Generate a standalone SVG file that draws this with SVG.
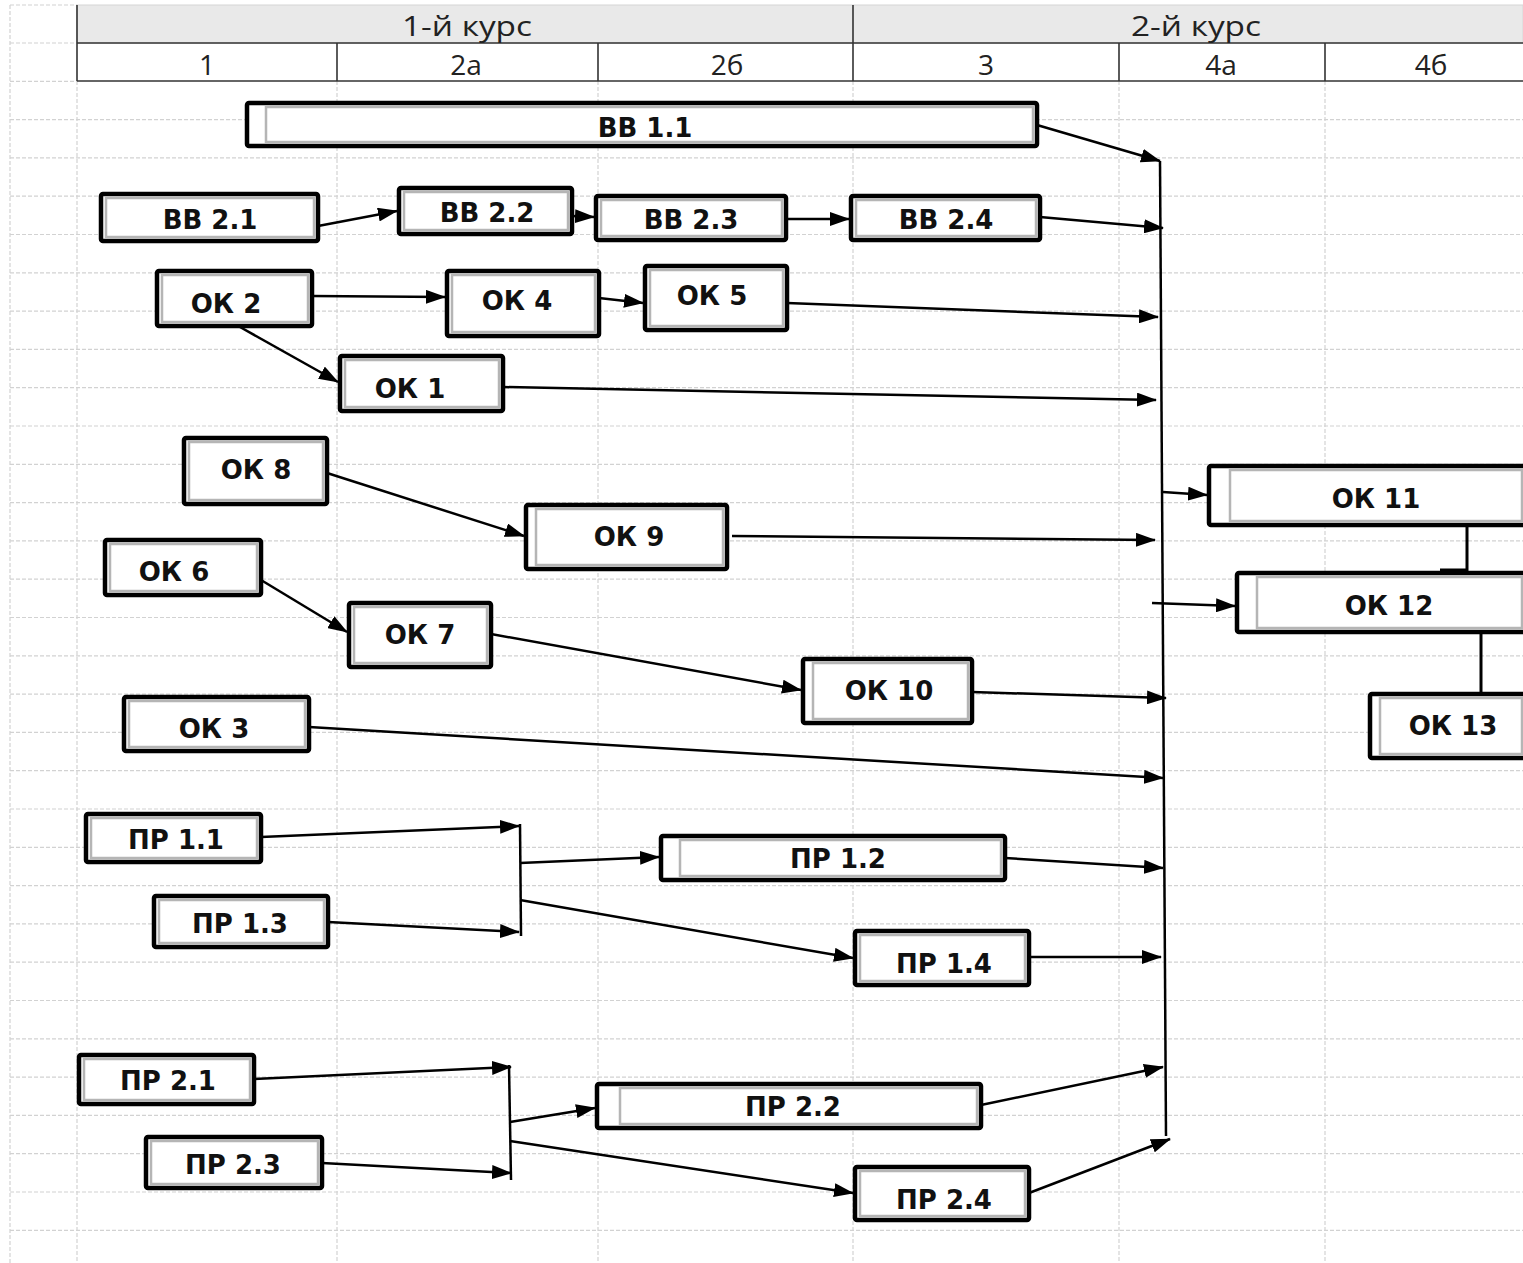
<svg xmlns="http://www.w3.org/2000/svg" width="1523" height="1263" viewBox="0 0 1523 1263">
<style>
.grid line{stroke:#d2d2d2;stroke-width:1.2;stroke-dasharray:4 2}
.hdr{stroke:#333;stroke-width:1.6}
.ht{font-family:"Open Sans","Liberation Sans",sans-serif;font-size:28px;fill:#222;text-anchor:middle}
.node .o{fill:#fff;stroke:#000;stroke-width:4.5}
.node .i{fill:none;stroke:#b5b5b5;stroke-width:2.5}
.node text{font-family:"DejaVu Sans","Liberation Sans",sans-serif;font-weight:bold;font-size:26px;fill:#111;text-anchor:middle}
#connectors path{fill:none;stroke:#000;stroke-width:2.5}
#connectors path.a{marker-end:url(#ah)}
</style>
<defs>
<marker id="ah" markerUnits="userSpaceOnUse" markerWidth="20" markerHeight="14" refX="19" refY="7" orient="auto">
<path d="M0,0 L20,7 L0,14 z" fill="#000"/>
</marker>
</defs>
<rect x="0" y="0" width="1523" height="1263" fill="#fff"/>
<g class="grid">
<line x1="10" y1="5" x2="10" y2="1263"/>
<line x1="77" y1="81" x2="77" y2="1263"/>
<line x1="337" y1="81" x2="337" y2="1263"/>
<line x1="598" y1="81" x2="598" y2="1263"/>
<line x1="853" y1="81" x2="853" y2="1263"/>
<line x1="1119" y1="81" x2="1119" y2="1263"/>
<line x1="1325" y1="81" x2="1325" y2="1263"/>
<line x1="10" y1="5" x2="77" y2="5"/>
<line x1="10" y1="43" x2="77" y2="43"/>
<line x1="10" y1="81.3" x2="77" y2="81.3"/>
<line x1="10" y1="119.6" x2="1523" y2="119.6"/>
<line x1="10" y1="157.9" x2="1523" y2="157.9"/>
<line x1="10" y1="196.2" x2="1523" y2="196.2"/>
<line x1="10" y1="234.5" x2="1523" y2="234.5"/>
<line x1="10" y1="272.8" x2="1523" y2="272.8"/>
<line x1="10" y1="311.1" x2="1523" y2="311.1"/>
<line x1="10" y1="349.4" x2="1523" y2="349.4"/>
<line x1="10" y1="387.7" x2="1523" y2="387.7"/>
<line x1="10" y1="426" x2="1523" y2="426"/>
<line x1="10" y1="464.3" x2="1523" y2="464.3"/>
<line x1="10" y1="502.6" x2="1523" y2="502.6"/>
<line x1="10" y1="540.9" x2="1523" y2="540.9"/>
<line x1="10" y1="579.2" x2="1523" y2="579.2"/>
<line x1="10" y1="617.5" x2="1523" y2="617.5"/>
<line x1="10" y1="655.8" x2="1523" y2="655.8"/>
<line x1="10" y1="694.1" x2="1523" y2="694.1"/>
<line x1="10" y1="732.4" x2="1523" y2="732.4"/>
<line x1="10" y1="770.7" x2="1523" y2="770.7"/>
<line x1="10" y1="809" x2="1523" y2="809"/>
<line x1="10" y1="847.3" x2="1523" y2="847.3"/>
<line x1="10" y1="885.6" x2="1523" y2="885.6"/>
<line x1="10" y1="923.9" x2="1523" y2="923.9"/>
<line x1="10" y1="962.2" x2="1523" y2="962.2"/>
<line x1="10" y1="1000.5" x2="1523" y2="1000.5"/>
<line x1="10" y1="1038.8" x2="1523" y2="1038.8"/>
<line x1="10" y1="1077.1" x2="1523" y2="1077.1"/>
<line x1="10" y1="1115.4" x2="1523" y2="1115.4"/>
<line x1="10" y1="1153.7" x2="1523" y2="1153.7"/>
<line x1="10" y1="1192" x2="1523" y2="1192"/>
<line x1="10" y1="1230.3" x2="1523" y2="1230.3"/>
</g>
<g id="header">
<rect x="77" y="5" width="1446" height="38" fill="#e9e9e9" stroke="#d6d6d6" stroke-width="1"/>
<line class="hdr" x1="77" y1="5" x2="77" y2="81"/>
<line class="hdr" x1="853" y1="5" x2="853" y2="81"/>
<line class="hdr" x1="77" y1="43" x2="1523" y2="43"/>
<line class="hdr" x1="77" y1="81" x2="1523" y2="81"/>
<line class="hdr" x1="337" y1="43" x2="337" y2="81"/>
<line class="hdr" x1="598" y1="43" x2="598" y2="81"/>
<line class="hdr" x1="1119" y1="43" x2="1119" y2="81"/>
<line class="hdr" x1="1325" y1="43" x2="1325" y2="81"/>
<text class="ht" x="467" y="36" textLength="130" lengthAdjust="spacingAndGlyphs">1-й курс</text>
<text class="ht" x="1196" y="36" textLength="130" lengthAdjust="spacingAndGlyphs">2-й курс</text>
<text class="ht" x="207" y="75">1</text>
<text class="ht" x="466" y="75">2а</text>
<text class="ht" x="727" y="75">2б</text>
<text class="ht" x="986" y="75">3</text>
<text class="ht" x="1221" y="75">4а</text>
<text class="ht" x="1431" y="75">4б</text>
</g>
<g id="vv11" class="node"><rect class="o" x="247" y="103" width="790" height="43" rx="2"/><rect class="i" x="266" y="107" width="767" height="35"/><text x="645" y="136.5">ВВ 1.1</text></g>
<g id="vv21" class="node"><rect class="o" x="101" y="194" width="217" height="47" rx="2"/><rect class="i" x="106" y="198" width="208" height="39"/><text x="210" y="228.5">ВВ 2.1</text></g>
<g id="vv22" class="node"><rect class="o" x="399" y="188" width="173" height="46" rx="2"/><rect class="i" x="404" y="192" width="164" height="38"/><text x="487" y="221.5">ВВ 2.2</text></g>
<g id="vv23" class="node"><rect class="o" x="596" y="196" width="190" height="44" rx="2"/><rect class="i" x="601" y="200" width="181" height="36"/><text x="691" y="228.5">ВВ 2.3</text></g>
<g id="vv24" class="node"><rect class="o" x="851" y="196" width="189" height="44" rx="2"/><rect class="i" x="856" y="200" width="180" height="36"/><text x="946" y="228.5">ВВ 2.4</text></g>
<g id="ok2" class="node"><rect class="o" x="157" y="271" width="155" height="55" rx="2"/><rect class="i" x="162" y="275" width="146" height="47"/><text x="226" y="312.5">ОК 2</text></g>
<g id="ok4" class="node"><rect class="o" x="447" y="271" width="152" height="65" rx="2"/><rect class="i" x="452" y="275" width="143" height="57"/><text x="517" y="309.5">ОК 4</text></g>
<g id="ok5" class="node"><rect class="o" x="645" y="266" width="142" height="64" rx="2"/><rect class="i" x="650" y="270" width="133" height="56"/><text x="712" y="304.5">ОК 5</text></g>
<g id="ok1" class="node"><rect class="o" x="340" y="356" width="163" height="55" rx="2"/><rect class="i" x="345" y="360" width="154" height="47"/><text x="410" y="397.5">ОК 1</text></g>
<g id="ok8" class="node"><rect class="o" x="184" y="438" width="143" height="66" rx="2"/><rect class="i" x="189" y="442" width="134" height="58"/><text x="256" y="478.5">ОК 8</text></g>
<g id="ok9" class="node"><rect class="o" x="526" y="505" width="201" height="64" rx="2"/><rect class="i" x="536" y="509" width="187" height="56"/><text x="629" y="545.5">ОК 9</text></g>
<g id="ok6" class="node"><rect class="o" x="105" y="540" width="156" height="55" rx="2"/><rect class="i" x="110" y="544" width="147" height="47"/><text x="174" y="580.5">ОК 6</text></g>
<g id="ok7" class="node"><rect class="o" x="349" y="603" width="142" height="64" rx="2"/><rect class="i" x="354" y="607" width="133" height="56"/><text x="420" y="643.5">ОК 7</text></g>
<g id="ok10" class="node"><rect class="o" x="803" y="659" width="169" height="64" rx="2"/><rect class="i" x="813" y="663" width="155" height="56"/><text x="889" y="699.5">ОК 10</text></g>
<g id="ok3" class="node"><rect class="o" x="124" y="697" width="185" height="54" rx="2"/><rect class="i" x="129" y="701" width="176" height="46"/><text x="214" y="737.5">ОК 3</text></g>
<g id="ok11" class="node"><rect class="o" x="1209" y="466" width="317" height="59" rx="2"/><rect class="i" x="1230" y="470" width="292" height="51"/><text x="1376" y="507.5">ОК 11</text></g>
<g id="ok12" class="node"><rect class="o" x="1237" y="573" width="289" height="59" rx="2"/><rect class="i" x="1257" y="577" width="265" height="51"/><text x="1389" y="614.5">ОК 12</text></g>
<g id="ok13" class="node"><rect class="o" x="1370" y="694" width="156" height="64" rx="2"/><rect class="i" x="1380" y="698" width="142" height="56"/><text x="1453" y="734.5">ОК 13</text></g>
<g id="pr11" class="node"><rect class="o" x="86" y="814" width="175" height="48" rx="2"/><rect class="i" x="91" y="818" width="166" height="40"/><text x="176" y="848.5">ПР 1.1</text></g>
<g id="pr13" class="node"><rect class="o" x="154" y="896" width="174" height="51" rx="2"/><rect class="i" x="159" y="900" width="165" height="43"/><text x="240" y="932.5">ПР 1.3</text></g>
<g id="pr12" class="node"><rect class="o" x="661" y="836" width="344" height="44" rx="2"/><rect class="i" x="680" y="840" width="321" height="36"/><text x="838" y="867.5">ПР 1.2</text></g>
<g id="pr14" class="node"><rect class="o" x="855" y="931" width="174" height="54" rx="2"/><rect class="i" x="860" y="935" width="165" height="46"/><text x="944" y="972.5">ПР 1.4</text></g>
<g id="pr21" class="node"><rect class="o" x="79" y="1055" width="175" height="49" rx="2"/><rect class="i" x="84" y="1059" width="166" height="41"/><text x="168" y="1089.5">ПР 2.1</text></g>
<g id="pr23" class="node"><rect class="o" x="146" y="1137" width="176" height="51" rx="2"/><rect class="i" x="151" y="1141" width="167" height="43"/><text x="233" y="1173.5">ПР 2.3</text></g>
<g id="pr22" class="node"><rect class="o" x="597" y="1084" width="384" height="44" rx="2"/><rect class="i" x="620" y="1088" width="357" height="36"/><text x="793" y="1115.5">ПР 2.2</text></g>
<g id="pr24" class="node"><rect class="o" x="855" y="1167" width="174" height="53" rx="2"/><rect class="i" x="860" y="1171" width="165" height="45"/><text x="944" y="1208.5">ПР 2.4</text></g>
<g id="connectors">
<path d="M1160,161 L1166,1136"/>
<path d="M520,824 L521,936"/>
<path d="M509,1065 L511,1180"/>
<path d="M1467,525 V570 H1440" style="stroke-width:3"/>
<path d="M1481,632 V694" style="stroke-width:3"/>
<path class="a" d="M1037,125 L1160,161"/>
<path class="a" d="M1040,217 L1163,228"/>
<path class="a" d="M787,303 L1158,317"/>
<path class="a" d="M503,387 L1156,400"/>
<path class="a" d="M732,536 L1155,540"/>
<path class="a" d="M972,692 L1166,698"/>
<path class="a" d="M309,727 L1163,778"/>
<path class="a" d="M1005,858 L1163,868"/>
<path class="a" d="M1029,957 L1161,957"/>
<path class="a" d="M981,1105 L1163,1067"/>
<path class="a" d="M1029,1193 L1170,1139"/>
<path class="a" d="M1163,492 L1207,495"/>
<path class="a" d="M1152,603 L1235,606"/>
<path class="a" d="M318,226 L397,211"/>
<path class="a" d="M572,216 L594,217"/>
<path class="a" d="M786,219 L849,219"/>
<path class="a" d="M312,296 L445,297"/>
<path class="a" d="M599,298 L643,303"/>
<path class="a" d="M240,327 L338,382"/>
<path class="a" d="M327,473 L524,536"/>
<path class="a" d="M261,580 L347,632"/>
<path class="a" d="M491,634 L801,690"/>
<path class="a" d="M261,837 L519,826"/>
<path class="a" d="M328,922 L519,932"/>
<path class="a" d="M520,863 L659,857"/>
<path class="a" d="M520,900 L853,958"/>
<path class="a" d="M254,1079 L511,1067"/>
<path class="a" d="M322,1163 L511,1173"/>
<path class="a" d="M510,1122 L595,1108"/>
<path class="a" d="M510,1141 L853,1193"/>
</g>
</svg>
